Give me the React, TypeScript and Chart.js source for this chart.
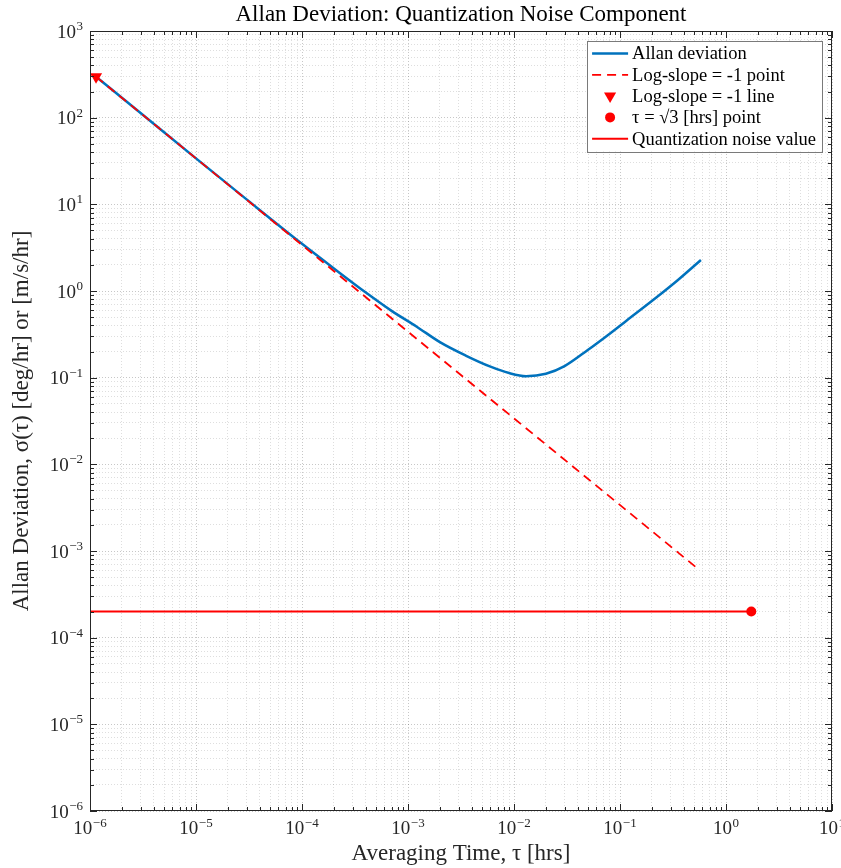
import React, { useEffect, useRef } from 'react';
import { Chart, registerables } from 'chart.js';

Chart.register(...registerables);

const FONT = '"Liberation Serif", "Times New Roman", serif';
const TEXT = '#262626';

const TITLE = 'Allan Deviation: Quantization Noise Component';
const X_TITLE = 'Averaging Time, τ [hrs]';
const Y_TITLE = 'Allan Deviation, σ(τ) [deg/hr] or [m/s/hr]';

// Allan deviation curve
const allanTau = [1.14e-6, 3e-6, 1e-5, 3e-5, 1e-4, 2e-4, 4e-4, 7e-4, 1.2e-3, 2e-3, 3.5e-3, 6e-3, 9e-3, 1.3e-2, 2e-2, 3e-2, 5e-2, 8e-2, 0.13, 0.22, 0.35, 0.58];
const allanSigma = [297, 113, 33.9, 11.4, 3.5, 1.82, 0.96, 0.59, 0.39, 0.257, 0.18, 0.134, 0.113, 0.104, 0.111, 0.136, 0.21, 0.322, 0.51, 0.84, 1.33, 2.28];

// Log-slope = -1 dashed line
const slopeTau = [1.14e-6, 0.53];
const slopeSigma = [297, 6.4e-4];

// Log-slope = -1 marker
const slopePointTau = [1.14e-6];
const slopePointSigma = [297];

// tau = sqrt(3) point
const sqrt3Tau = [1.732];
const sqrt3Sigma = [2e-4];

// Quantization noise value line
const quantTau = [1e-6, 1.732];
const quantSigma = [2e-4, 2e-4];

const seriesLabels = [
  'Allan deviation',
  'Log-slope = -1 point',
  'Log-slope = -1 line',
  'τ = √3 [hrs] point',
  'Quantization noise value',
];

// tick labels: 10^exponent
const xDecades = [-6, -5, -4, -3, -2, -1, 0, 1];
const xTickExponents = ['−6', '−5', '−4', '−3', '−2', '−1', '0', '1'];
const yDecades = [-6, -5, -4, -3, -2, -1, 0, 1, 2, 3];
const yTickExponents = ['−6', '−5', '−4', '−3', '−2', '−1', '0', '1', '2', '3'];

const zip = (xs: number[], ys: number[]) => xs.map((x, i) => ({ x, y: ys[i] }));

const logTicks = (minE: number, maxE: number) => (scale: any) => {
  const ticks: any[] = [];
  for (let e = minE; e <= maxE; e++) {
    for (let m = 1; m <= 9; m++) {
      if (e === maxE && m > 1) break;
      ticks.push({ value: m * Math.pow(10, e), major: m === 1 });
    }
  }
  scale.ticks = ticks;
};

const MAIN_PX = 19;
const EXP_PX = 13;
const RAISE = 7.5;

const drawPow = (ctx: any, exp: string, x: number, baseline: number, align: 'center' | 'right') => {
  ctx.font = `${MAIN_PX}px ${FONT}`;
  const wMain = ctx.measureText('10').width;
  ctx.font = `${EXP_PX}px ${FONT}`;
  const wExp = ctx.measureText(exp).width;
  const total = wMain + wExp + 0.5;
  const x0 = align === 'center' ? x - total / 2 : x - total;
  ctx.textAlign = 'left';
  ctx.textBaseline = 'alphabetic';
  ctx.font = `${MAIN_PX}px ${FONT}`;
  ctx.fillText('10', x0, baseline);
  ctx.font = `${EXP_PX}px ${FONT}`;
  ctx.fillText(exp, x0 + wMain + 0.5, baseline - RAISE);
};

const tickLabelPlugin = {
  id: 'powTickLabels',
  afterDraw(chart: any) {
    const { ctx, chartArea: a, scales } = chart;
    ctx.save();
    ctx.fillStyle = TEXT;
    xDecades.forEach((e, i) => {
      const px = scales.x.getPixelForValue(Math.pow(10, e));
      drawPow(ctx, xTickExponents[i], px, a.bottom + 23, 'center');
    });
    yDecades.forEach((e, i) => {
      const py = scales.y.getPixelForValue(Math.pow(10, e));
      drawPow(ctx, yTickExponents[i], a.left - 7, py + 6.5, 'right');
    });
    ctx.restore();
  },
};

const framePlugin = {
  id: 'frameTicks',
  afterDatasetsDraw(chart: any) {
    const { ctx, chartArea: a, scales } = chart;
    const xs = scales.x;
    const ys = scales.y;
    ctx.save();
    ctx.strokeStyle = TEXT;
    ctx.lineWidth = 1;
    ctx.beginPath();
    xs.ticks.forEach((t: any) => {
      const px = Math.round(xs.getPixelForValue(t.value)) + 0.5;
      const len = t.major ? 7 : 4;
      ctx.moveTo(px, a.bottom);
      ctx.lineTo(px, a.bottom - len);
      ctx.moveTo(px, a.top);
      ctx.lineTo(px, a.top + len);
    });
    ys.ticks.forEach((t: any) => {
      const py = Math.round(ys.getPixelForValue(t.value)) + 0.5;
      const len = t.major ? 7 : 4;
      ctx.moveTo(a.left, py);
      ctx.lineTo(a.left + len, py);
      ctx.moveTo(a.right, py);
      ctx.lineTo(a.right - len, py);
    });
    ctx.stroke();
    ctx.strokeRect(Math.round(a.left) + 0.5, Math.round(a.top) + 0.5, Math.round(a.right - a.left) - 1, Math.round(a.bottom - a.top) - 1);
    ctx.restore();
  },
};

const titlePlugin = {
  id: 'figTitle',
  afterDraw(chart: any) {
    const { ctx, chartArea: a } = chart;
    ctx.save();
    ctx.font = `23px ${FONT}`;
    ctx.fillStyle = '#000';
    ctx.textAlign = 'center';
    ctx.textBaseline = 'alphabetic';
    ctx.fillText(TITLE, (a.left + a.right) / 2, a.top - 10);
    ctx.restore();
  },
};

const legendPlugin = {
  id: 'boxLegend',
  afterDraw(chart: any) {
    const { ctx, chartArea: a } = chart;
    const ds = chart.data.datasets;
    ctx.save();
    ctx.font = `18.5px ${FONT}`;
    let maxW = 0;
    ds.forEach((d: any) => { maxW = Math.max(maxW, ctx.measureText(d.label).width); });
    const right = a.right - 10;
    const top = a.top + 10;
    const width = maxW + 51;
    const left = right - width;
    const rowH = 21.3;
    const height = rowH * ds.length + 4;
    ctx.fillStyle = '#fff';
    ctx.fillRect(left, top, width, height);
    ctx.strokeStyle = '#7a7a7a';
    ctx.lineWidth = 1;
    ctx.strokeRect(Math.round(left) + 0.5, Math.round(top) + 0.5, Math.round(width), Math.round(height));
    ds.forEach((d: any, i: number) => {
      const cy = top + 12.5 + i * rowH;
      const x0 = left + 5;
      const x1 = left + 41;
      const cx = (x0 + x1) / 2;
      if (d.showLine === false) {
        ctx.fillStyle = d.backgroundColor;
        ctx.beginPath();
        if (d.pointStyle === 'triangle') {
          const r = d.pointRadius;
          ctx.moveTo(cx - r * 0.866, cy - r * 0.5);
          ctx.lineTo(cx + r * 0.866, cy - r * 0.5);
          ctx.lineTo(cx, cy + r);
          ctx.closePath();
        } else {
          ctx.arc(cx, cy, d.pointRadius, 0, Math.PI * 2);
        }
        ctx.fill();
      } else {
        ctx.strokeStyle = d.borderColor;
        ctx.lineWidth = d.borderWidth;
        ctx.setLineDash(d.borderDash || []);
        ctx.beginPath();
        ctx.moveTo(x0, cy);
        ctx.lineTo(x1, cy);
        ctx.stroke();
        ctx.setLineDash([]);
      }
      ctx.fillStyle = '#000';
      ctx.textAlign = 'left';
      ctx.textBaseline = 'middle';
      ctx.fillText(d.label, left + 45, cy + 1);
    });
    ctx.restore();
  },
};

export default function App() {
  const ref = useRef<HTMLCanvasElement>(null);

  useEffect(() => {
    const RED = '#FF0000';
    const gridColor = (c: any) => (c.tick && c.tick.major ? 'rgba(0,0,0,0.22)' : 'rgba(0,0,0,0.13)');
    const chart = new Chart(ref.current as HTMLCanvasElement, {
      type: 'line',
      data: {
        datasets: [
          {
            label: seriesLabels[0],
            data: zip(allanTau, allanSigma),
            borderColor: '#0072BD',
            backgroundColor: '#0072BD',
            borderWidth: 2.5,
            pointRadius: 0,
            cubicInterpolationMode: 'monotone',
            order: 5,
          },
          {
            label: seriesLabels[1],
            data: zip(slopeTau, slopeSigma),
            borderColor: RED,
            backgroundColor: RED,
            borderWidth: 1.8,
            borderDash: [9, 6],
            pointRadius: 0,
            order: 4,
          },
          {
            label: seriesLabels[2],
            data: zip(slopePointTau, slopePointSigma),
            showLine: false,
            pointStyle: 'triangle',
            rotation: 180,
            pointRadius: 7,
            borderWidth: 0,
            borderColor: RED,
            backgroundColor: RED,
            order: 3,
          },
          {
            label: seriesLabels[3],
            data: zip(sqrt3Tau, sqrt3Sigma),
            showLine: false,
            pointStyle: 'circle',
            pointRadius: 5,
            borderWidth: 0,
            borderColor: RED,
            backgroundColor: RED,
            order: 2,
          },
          {
            label: seriesLabels[4],
            data: zip(quantTau, quantSigma),
            borderColor: RED,
            backgroundColor: RED,
            borderWidth: 2,
            pointRadius: 0,
            order: 1,
          },
        ] as any,
      },
      options: {
        responsive: false,
        animation: false,
        devicePixelRatio: 1,
        layout: { padding: { top: 31, right: 9, bottom: 0, left: 0 } },
        plugins: {
          legend: { display: false },
          tooltip: { enabled: false },
          title: { display: false },
        },
        scales: {
          x: {
            type: 'logarithmic',
            min: 1e-6,
            max: 10,
            afterBuildTicks: logTicks(-6, 1),
            afterFit: (s: any) => { s.height = 57; s.paddingLeft = 0; s.paddingRight = 0; },
            grid: { drawTicks: false, color: gridColor, lineWidth: 1 },
            border: { display: false, dash: [1, 2] },
            ticks: { display: false, autoSkip: false, maxRotation: 0, minRotation: 0 },
            title: {
              display: true,
              text: X_TITLE,
              color: TEXT,
              font: { family: FONT, size: 23 },
              padding: { top: 2, bottom: 0 },
            },
          },
          y: {
            type: 'logarithmic',
            min: 1e-6,
            max: 1000,
            afterBuildTicks: logTicks(-6, 3),
            afterFit: (s: any) => { s.width = 90; s.paddingTop = 0; s.paddingBottom = 0; },
            grid: { drawTicks: false, color: gridColor, lineWidth: 1 },
            border: { display: false, dash: [1, 2] },
            ticks: { display: false, autoSkip: false },
            title: {
              display: true,
              text: Y_TITLE,
              color: TEXT,
              font: { family: FONT, size: 23 },
              padding: { top: 8, bottom: 0 },
            },
          },
        },
      } as any,
      plugins: [framePlugin, titlePlugin, tickLabelPlugin, legendPlugin],
    });
    return () => chart.destroy();
  }, []);

  return (
    <div style={{ position: 'absolute', left: 0, top: 0, width: 841, height: 868, background: '#fff' }}>
      <canvas ref={ref} width={841} height={868} style={{ display: 'block', width: 841, height: 868 }} />
    </div>
  );
}
